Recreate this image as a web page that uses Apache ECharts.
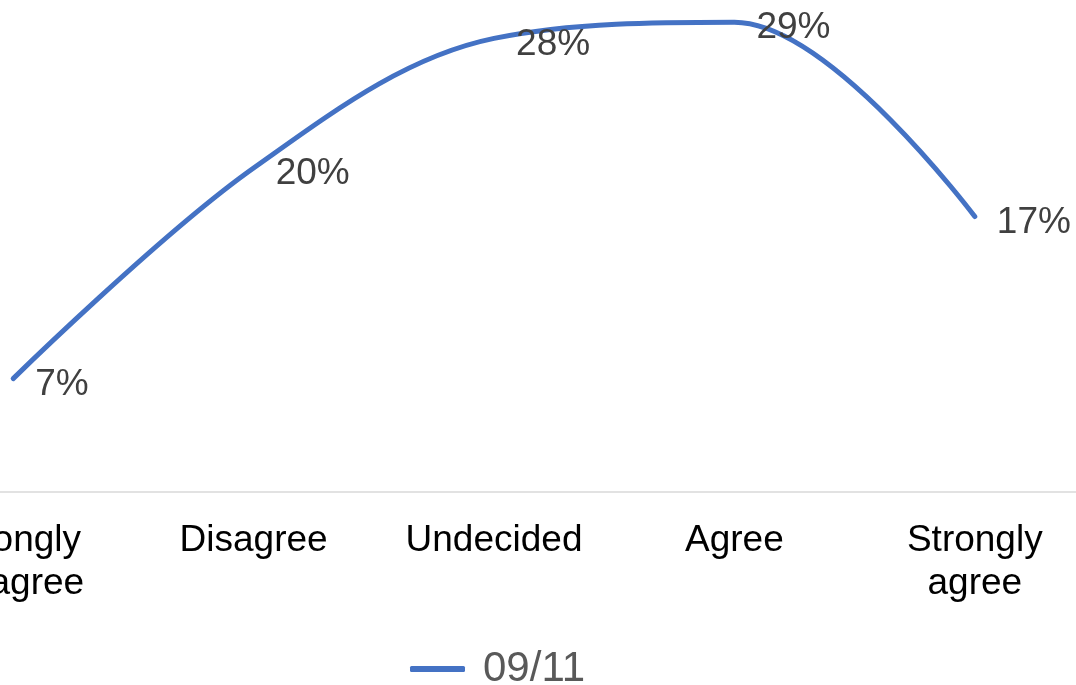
<!DOCTYPE html>
<html>
<head>
<meta charset="utf-8">
<script src="https://cdn.jsdelivr.net/npm/echarts@6/dist/echarts.min.js"></script>
<style>
html,body{margin:0;padding:0;background:#fff;}
#chart{width:1076px;height:685px;}
</style>
</head>
<body>
<div id="chart"></div>
<script>
const categories = ['Strongly disagree', 'Disagree', 'Undecided', 'Agree', 'Strongly agree'];
const seriesName = '09/11';
const values = [7, 20, 28, 29, 17];

const chart = echarts.init(document.getElementById('chart'), null, {renderer: 'canvas'});
const FONT = '"Liberation Sans", Arial, sans-serif';
chart.setOption({
  animation: false,
  backgroundColor: '#ffffff',
  grid: {left: -107, right: -19, top: 6, bottom: 193, containLabel: false, outerBoundsMode: 'none'},
  xAxis: {
    type: 'category',
    data: categories,
    boundaryGap: true,
    axisLine: {show: true, lineStyle: {color: '#D9D9D9', width: 1.5}},
    axisTick: {show: false},
    axisLabel: {
      interval: 0,
      fontFamily: FONT,
      fontSize: 37,
      color: '#000000',
      lineHeight: 43,
      margin: 27,
      hideOverlap: false,
      formatter: function (v) { return v.replace(' ', '\n'); }
    },
    splitLine: {show: false}
  },
  yAxis: {
    type: 'value',
    min: 0,
    max: 30,
    interval: 10,
    show: false,
    splitLine: {show: false}
  },
  legend: {
    show: true,
    top: 640,
    left: 405,
    icon: 'roundRect',
    itemWidth: 55,
    itemHeight: 6,
    itemGap: 20,
    textStyle: {fontFamily: FONT, fontSize: 42, color: '#595959', lineHeight: 48, padding: [0,0,0,13]},
    data: [seriesName]
  },
  series: [{
    name: seriesName,
    type: 'line',
    data: values,
    smooth: 0.35,
    symbol: 'circle',
    symbolSize: 0.1,
    showSymbol: true,
    lineStyle: {color: '#4472C4', width: 5, cap: 'round', join: 'round'},
    itemStyle: {color: '#4472C4'},
    label: {
      show: true,
      position: 'right',
      distance: 22,
      offset: [0, 6],
      fontFamily: FONT,
      fontSize: 37,
      color: '#404040',
      formatter: function (p) { return p.value + '%'; }
    }
  }]
});
</script>
</body>
</html>
